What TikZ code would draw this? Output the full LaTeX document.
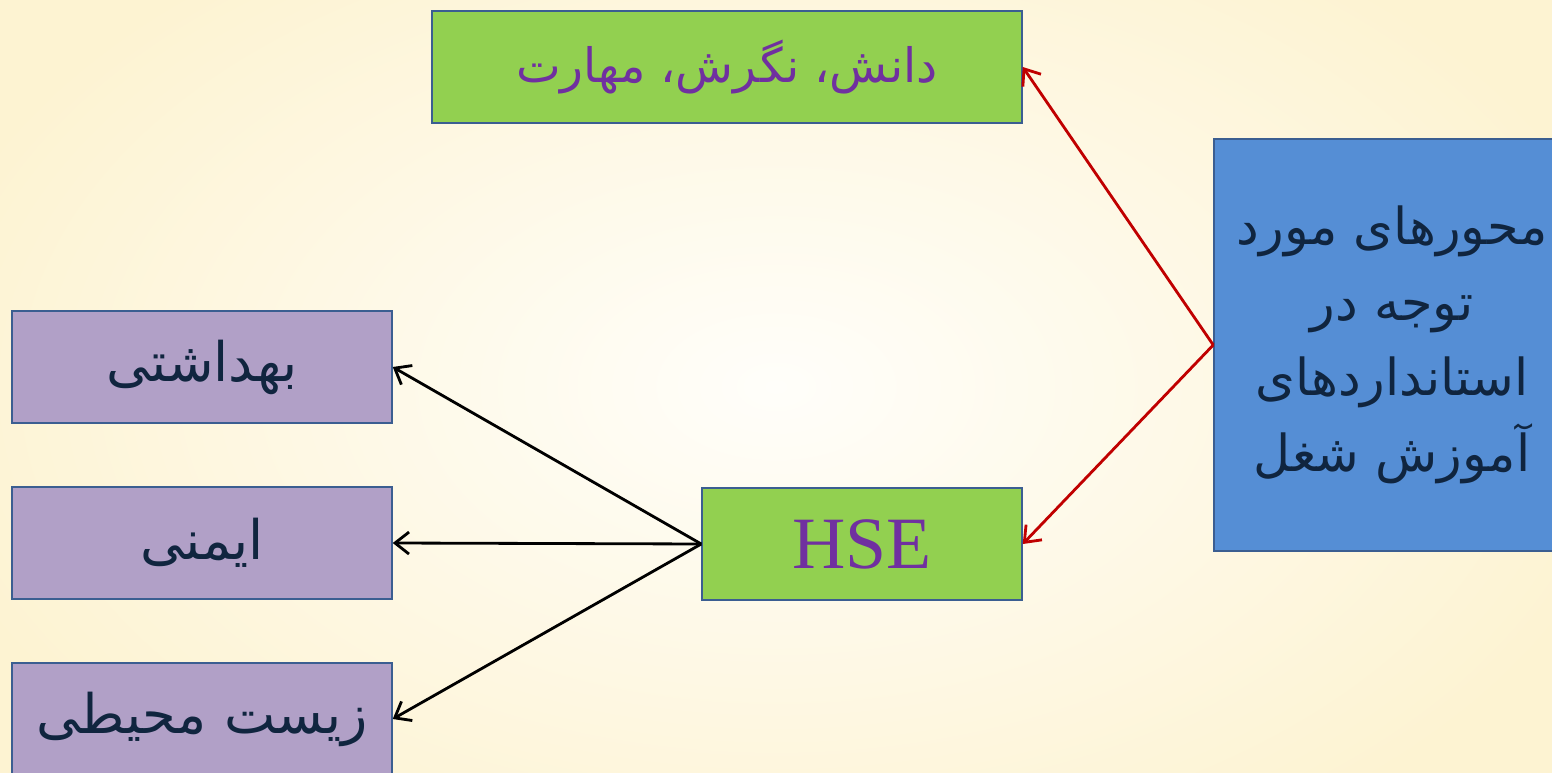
\documentclass[tikz,border=0pt]{standalone}
\usepackage{fontspec}
\setmainfont{Liberation Serif}
\newfontfamily\farsifont[Script=Arabic]{DejaVu Sans}
\TeXXeTstate=1
\usetikzlibrary{arrows.meta,positioning}
\definecolor{hsgreen}{HTML}{92D050}
\definecolor{hspurple}{HTML}{B1A0C7}
\definecolor{hsblue}{HTML}{558ED5}
\definecolor{hsedge}{HTML}{3B5E91}
\definecolor{hsviolet}{HTML}{7030A0}
\definecolor{hsnavy}{HTML}{10253F}
\definecolor{hsred}{HTML}{C00000}
\definecolor{hscream}{HTML}{FFFEFA}
\definecolor{hsbeige}{HTML}{FDF3D2}
\tikzset{
  box/.style={draw=hsedge, line width=0.9pt, inner sep=0pt, align=center,
    minimum height=2.24cm},
  sidebox/.style={box, fill=hspurple, minimum width=7.6cm,
    font=\farsifont\fontsize{31}{36}\selectfont\color{hsnavy}},
  redarr/.style={-{Straight Barb[length=2.8mm,width=4.4mm]}, line width=1.6pt, hsred},
  blackarr/.style={-{Straight Barb[length=2.8mm,width=4.4mm]}, line width=1.6pt, black},
}

\begin{document}
\begin{tikzpicture}[x=0.02cm, y=0.02cm]
    \useasboundingbox (0,0) rectangle (1552,-773);
    \clip (0,0) rectangle (1552,-773);
    \shade[inner color=hscream, outer color=hsbeige] (-100,150) rectangle (1652,-923);
    \node[box, fill=hsgreen, minimum width=11.8cm,
      font=\farsifont\fontsize{27}{32}\selectfont\color{hsviolet}] (know) at (727,-67)
      {\beginR دانش، نگرش، مهارت\endR};
    \node[sidebox] (health) at (202,-367) {\beginR بهداشتی\endR};
    \node[sidebox] (safety) at (202,-543) {\beginR ایمنی\endR};
    \node[sidebox] (env) at (202,-719) {\beginR زیست محیطی\endR};
    \node[box, fill=hsgreen, minimum width=6.4cm,
      font=\fontsize{42}{48}\selectfont\color{hsviolet}] (hse) at (862,-544) {HSE};
    \node[box, fill=hsblue, minimum width=7.12cm, minimum height=8.24cm,
      font=\farsifont\fontsize{29}{43}\selectfont\color{hsnavy}] (axes) at (1392,-345)
      {\beginR محورهای مورد\endR\\ \beginR توجه در\endR\\ \beginR استانداردهای\endR\\ \beginR آموزش شغل\endR};
    \draw[redarr] (axes.west) -- (know.east);
    \draw[redarr] (axes.west) -- (hse.east);
    \draw[blackarr] (hse.west) -- (health.east);
    \draw[blackarr] (hse.west) -- (safety.east);
    \draw[blackarr] (hse.west) -- (env.east);
\end{tikzpicture}
\end{document}
